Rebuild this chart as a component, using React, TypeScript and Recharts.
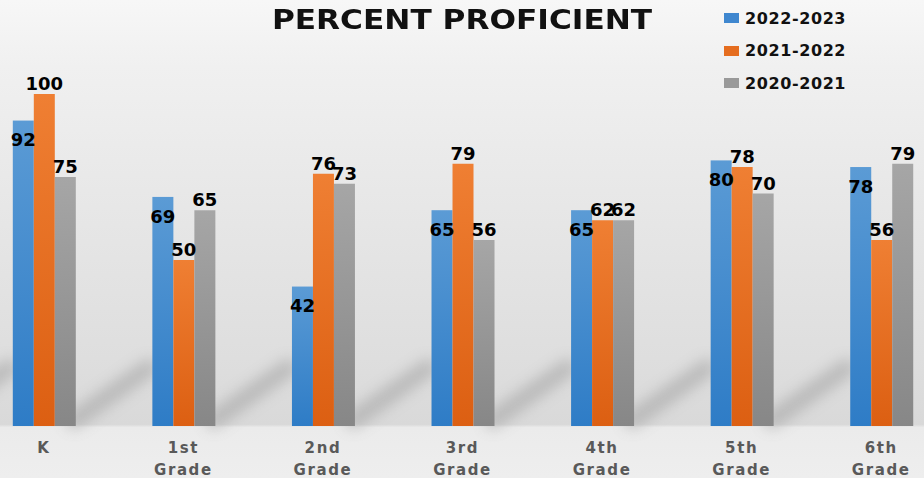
import React from 'react';
import { BarChart, Bar, XAxis, YAxis, LabelList } from 'recharts';

const categories = ['K', '1st Grade', '2nd Grade', '3rd Grade', '4th Grade', '5th Grade', '6th Grade'];
const values2223 = [92, 69, 42, 65, 65, 80, 78];
const values2122 = [100, 50, 76, 79, 62, 78, 56];
const values2021 = [75, 65, 73, 56, 62, 70, 79];
const seriesNames = ['2022-2023', '2021-2022', '2020-2021'];
const seriesColors = ['#3f87cf', '#e56d1f', '#999999'];

const data = categories.map((grade, i) => ({
  grade,
  y2223: values2223[i],
  y2122: values2122[i],
  y2021: values2021[i],
}));

const FONT = '"DejaVu Sans", Verdana, sans-serif';

const GradeTick = (props: any) => {
  const { x, y, payload } = props;
  const words = String(payload.value).split(' ');
  return (
    <text
      x={x}
      y={y}
      textAnchor="middle"
      fill="#595959"
      fontFamily={FONT}
      fontWeight="bold"
      fontSize={15}
      letterSpacing={1.6}
    >
      {words.map((w, i) => (
        <tspan key={i} x={x} dy={i === 0 ? '0.71em' : 22}>
          {w}
        </tspan>
      ))}
    </text>
  );
};

// blue bar with the faint diagonal reflection streak to its left
const BlueBar = (props: any) => {
  const { x, y, width, height } = props;
  const base = y + height;
  return (
    <g>
      <path
        d={`M${x - 78},${base - 6} L${x - 4},${base - 58}`}
        stroke="#8a8a8a"
        strokeWidth={18}
        strokeLinecap="round"
        opacity={0.4}
        filter="url(#streakBlur)"
      />
      <rect x={x} y={y} width={width} height={height} fill="url(#gBlue)" />
    </g>
  );
};

const labelStyle = {
  fill: '#000',
  fontFamily: FONT,
  fontWeight: 'bold' as const,
  fontSize: 18,
};

export default function App() {
  return (
    <div
      style={{
        position: 'absolute',
        left: 0,
        top: 0,
        width: 924,
        height: 478,
        overflow: 'hidden',
        background:
          'linear-gradient(to bottom, #f7f7f7 0%, #f0f0f0 14%, #e8e8e8 40%, #dedede 75%, #d9d9d9 88.8%, #ebebeb 89.4%, #eeeeee 100%)',
      }}
    >
      <div style={{ position: 'absolute', left: -26, top: 0 }}>
        <BarChart
          width={977}
          height={478}
          data={data}
          margin={{ top: 94, right: 0, bottom: 0, left: 0 }}
          barCategoryGap="27.8%"
          barGap={0}
        >
          <defs>
            <linearGradient id="gBlue" x1="0" y1="0" x2="0" y2="1">
              <stop offset="0%" stopColor="#5b9bd5" />
              <stop offset="100%" stopColor="#2e7cc6" />
            </linearGradient>
            <linearGradient id="gOrange" x1="0" y1="0" x2="0" y2="1">
              <stop offset="0%" stopColor="#ef7f33" />
              <stop offset="100%" stopColor="#dc5f12" />
            </linearGradient>
            <linearGradient id="gGray" x1="0" y1="0" x2="0" y2="1">
              <stop offset="0%" stopColor="#a6a6a6" />
              <stop offset="100%" stopColor="#878787" />
            </linearGradient>
            <filter id="streakBlur" x="-50%" y="-50%" width="200%" height="200%">
              <feGaussianBlur stdDeviation="7" />
            </filter>
          </defs>
          <XAxis
            dataKey="grade"
            height={52}
            axisLine={false}
            tickLine={false}
            tickSize={0}
            tickMargin={16}
            interval={0}
            tick={<GradeTick />}
          />
          <YAxis hide domain={[0, 100]} />
          <Bar dataKey="y2223" name={seriesNames[0]} fill="url(#gBlue)" shape={<BlueBar />} isAnimationActive={false}>
            <LabelList dataKey="y2223" position="insideTop" offset={13} style={labelStyle} />
          </Bar>
          <Bar dataKey="y2122" name={seriesNames[1]} fill="url(#gOrange)" isAnimationActive={false}>
            <LabelList dataKey="y2122" position="top" offset={4} style={labelStyle} />
          </Bar>
          <Bar dataKey="y2021" name={seriesNames[2]} fill="url(#gGray)" isAnimationActive={false}>
            <LabelList dataKey="y2021" position="top" offset={4} style={labelStyle} />
          </Bar>
        </BarChart>
      </div>

      <div
        style={{
          position: 'absolute',
          left: 0,
          width: 924,
          top: 4,
          textAlign: 'center',
          fontFamily: FONT,
          fontWeight: 'bold',
          fontSize: 26,
          color: '#111',
          transform: 'scaleX(1.2)',
          lineHeight: '32px',
        }}
      >
        PERCENT PROFICIENT
      </div>

      {seriesNames.map((name, i) => (
        <div
          key={name}
          style={{
            position: 'absolute',
            left: 724,
            top: 8 + i * 32.5,
            height: 20,
            display: 'flex',
            alignItems: 'center',
            fontFamily: FONT,
            fontWeight: 'bold',
            fontSize: 16,
            letterSpacing: 0.6,
            color: '#111',
          }}
        >
          <span
            style={{
              display: 'inline-block',
              width: 15,
              height: 10,
              background: seriesColors[i],
              marginRight: 6,
            }}
          />
          {name}
        </div>
      ))}
    </div>
  );
}
